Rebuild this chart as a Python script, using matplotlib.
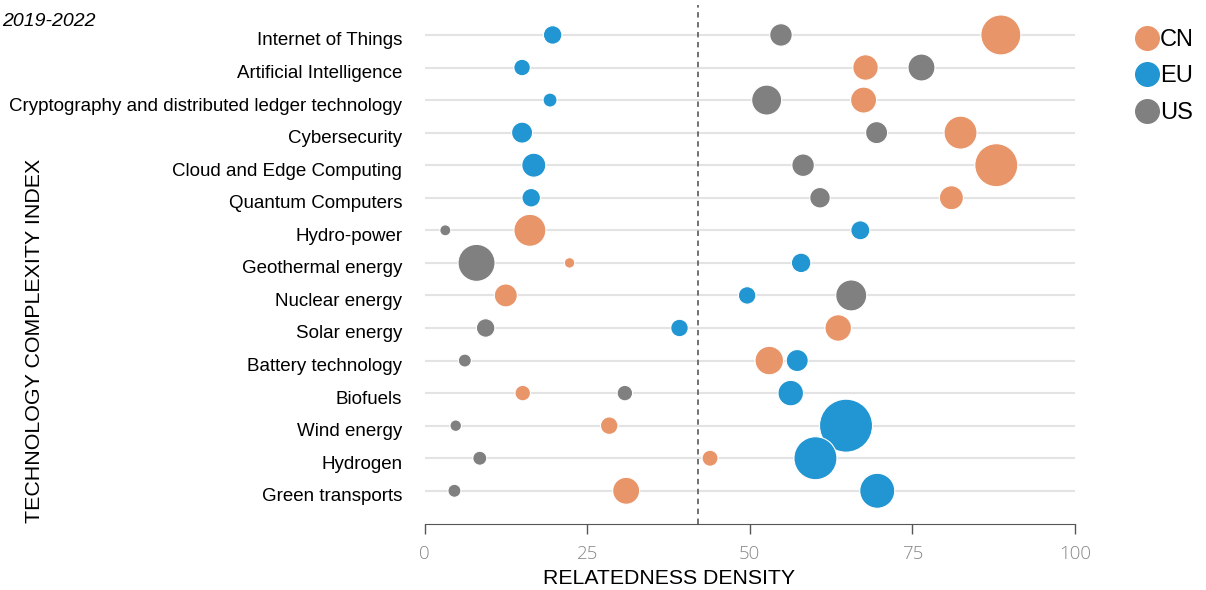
import matplotlib
matplotlib.use("Agg")
import matplotlib.pyplot as plt
import matplotlib.transforms as mtransforms
from matplotlib.lines import Line2D

#data
technologies = ["Internet of Things", "Artificial Intelligence",
                "Cryptography and distributed ledger technology", "Cybersecurity",
                "Cloud and Edge Computing", "Quantum Computers", "Hydro-power",
                "Geothermal energy", "Nuclear energy", "Solar energy",
                "Battery technology", "Biofuels", "Wind energy", "Hydrogen",
                "Green transports"]

cn_density = [88.6, 67.8, 67.5, 82.4, 87.9, 81.0, 16.2, 22.3, 12.5, 63.6, 53.0, 15.1, 28.4, 43.9, 31.0]
eu_density = [19.7, 15.0, 19.3, 15.0, 16.8, 16.4, 67.0, 57.9, 49.6, 39.2, 57.3, 56.3, 64.8, 60.1, 69.6]
us_density = [54.8, 76.4, 52.6, 69.5, 58.2, 60.8, 3.2, 8.0, 65.6, 9.4, 6.2, 30.8, 4.8, 8.5, 4.6]

#bubble size (relative, roughly the drawn diameter)
cn_size = [40, 25.5, 26, 33, 43, 24, 32, 10.5, 23, 26.5, 28.5, 15.5, 17.5, 16, 27]
eu_size = [18.5, 16.5, 14, 21, 24, 18.5, 19, 19.5, 17.5, 17.5, 22, 25.5, 53, 43, 35]
us_size = [22.5, 27, 30, 22, 22.5, 20.5, 11, 37, 31, 18.5, 13, 15.5, 11.5, 14, 13]

threshold = 42.0

series = [("CN", cn_density, cn_size, "#E9956A"),
          ("EU", eu_density, eu_size, "#2196D2"),
          ("US", us_density, us_size, "#808080")]

fig = plt.figure(figsize=(12.06, 5.90), dpi=100)
ax = fig.add_axes([424.5/1206, 1-524/590, (1075-424.5)/1206, (524-5)/590])

rows = list(range(len(technologies)))

#light row lines
for r in rows:
	ax.axhline(r, color="#e3e3e3", lw=1.5, zorder=0)

ax.axvline(threshold, color="#666666", lw=1.3, ls=(0, (3, 2.5)), zorder=1)

for name, dens, size, color in series:
	s = [(d*0.72)**2 for d in size]
	ax.scatter(dens, rows, s=s, color=color, edgecolors="white", linewidths=0.8, zorder=3)

ax.set_xlim(0, 100)
ax.set_ylim(len(technologies)-1+1.02, -0.92)
ax.set_xticks([0, 25, 50, 75, 100])
ax.set_yticks(rows)
ax.set_yticklabels(technologies, fontsize=13.5, family="Liberation Sans")
ax.tick_params(axis="y", length=0, pad=16)
ax.tick_params(axis="x", length=7, width=1, color="#555555", labelcolor="#888888",
               labelsize=13.5, pad=8)
for lab in ax.get_xticklabels():
	lab.set_family("Open Sans")
	lab.set_fontweight("light")

#labels sit a little below the row line
shift = mtransforms.ScaledTranslation(0, -4/100, fig.dpi_scale_trans)
for lab in ax.get_yticklabels():
	lab.set_transform(lab.get_transform() + shift)

for side in ["left", "right", "top"]:
	ax.spines[side].set_visible(False)
ax.spines["bottom"].set_color("#555555")

fig.text(669/1206, 1-578/590, "RELATEDNESS DENSITY", ha="center", va="center",
         fontsize=15.3, family="Liberation Sans")
fig.text(35/1206, 1-341/590, "TECHNOLOGY COMPLEXITY INDEX", ha="center", va="center",
         rotation=90, fontsize=15.4, family="Liberation Sans")
fig.text(2/1206, 1-21/590, "2019-2022", ha="left", va="center", fontsize=14,
         style="italic", family="Liberation Sans")

handles = [Line2D([], [], ls="", marker="o", markersize=17, color=c, markeredgecolor=c)
           for _, _, _, c in series]
leg = fig.legend(handles, [n for n, _, _, _ in series], loc="upper left",
                 bbox_to_anchor=(1121/1206, 1-17/590), frameon=False,
                 prop={"family": "Liberation Sans", "size": 17},
                 handletextpad=-0.05, labelspacing=0.62, borderpad=0, handlelength=1.2)

plt.savefig("out.png", dpi=100)
